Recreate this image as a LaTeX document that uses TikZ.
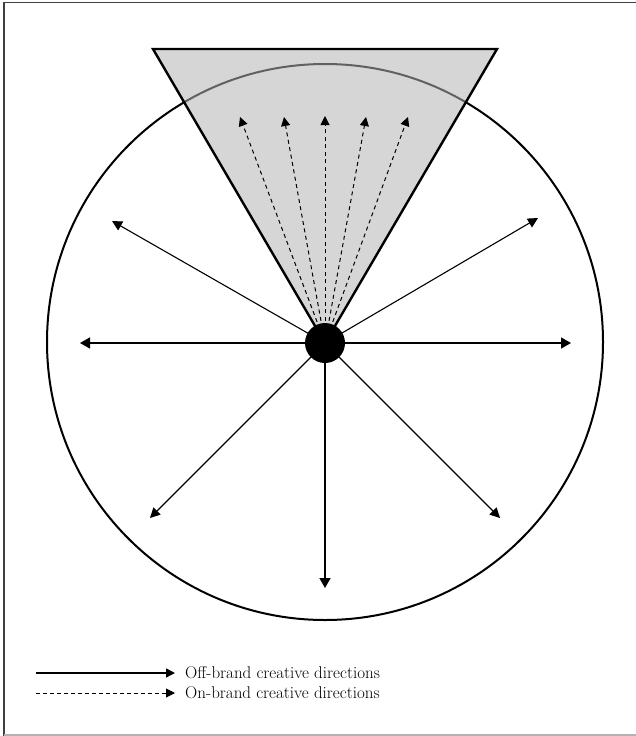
\documentclass[tikz,border=0pt]{standalone}
\usetikzlibrary{arrows.meta}
\tikzset{
  offarrow/.style={line width=1.1pt,-{Triangle[length=10pt,width=10pt]}},
  offarrowthick/.style={line width=1.6pt,-{Triangle[length=10pt,width=11pt]}},
  onarrow/.style={line width=1pt,dash pattern=on 4pt off 3.5pt,-{Triangle[length=9pt,width=9pt]}},
  legendtext/.style={anchor=west,inner sep=0pt,font=\fontsize{17}{19}\selectfont},
}
\begin{document}
\begin{tikzpicture}[x=1pt,y=-1pt]
\useasboundingbox (0,0) rectangle (636,736);
% frame
\draw[line width=1.5pt,color=black!75] (4,736) -- (4,2.5) -- (636,2.5);
\draw[line width=1.2pt,color=black!30] (4,735) -- (636,735);
% circle
\draw[line width=2pt] (325,342) circle (278);
% cone
\coordinate (tl) at (153,49);
\coordinate (tr) at (497,49);
\coordinate (c) at (325,343);
\fill[black!16] (tl) -- (tr) -- (c) -- cycle;
\begin{scope}
\clip (tl) -- (tr) -- (c) -- cycle;
\draw[line width=2pt,color=black!62] (325,342) circle (278);
\end{scope}
\draw[line width=2.4pt,line join=miter] (tl) -- (tr) -- (c) -- cycle;
% tips
\coordinate (d1) at (240,117);
\coordinate (d2) at (284,117);
\coordinate (d3) at (325,116);
\coordinate (d4) at (366,117);
\coordinate (d5) at (408,117);
\coordinate (w) at (80,343);
\coordinate (e) at (571,343);
\coordinate (nw) at (112,221);
\coordinate (ne) at (538,218);
\coordinate (sw) at (150,518);
\coordinate (se) at (500,518);
\coordinate (s) at (325,588);
\foreach \t in {d1,d2,d3,d4,d5} \draw[onarrow] (c) -- (\t);
\foreach \t in {nw,ne,sw,se} \draw[offarrow] (c) -- (\t);
\foreach \t in {w,e,s} \draw[offarrowthick] (c) -- (\t);
\node[circle,fill=black,minimum size=40pt,inner sep=0pt] (dot) at (c) {};
% legend
\coordinate (l1a) at (36,673);
\coordinate (l1b) at (175,673);
\coordinate (l2a) at (36,693);
\coordinate (l2b) at (175,693);
\draw[line width=1.5pt,-{Triangle[length=9pt,width=9pt]}] (l1a) -- (l1b);
\draw[line width=1pt,dash pattern=on 4pt off 3pt,-{Triangle[length=9pt,width=9pt]}] (l2a) -- (l2b);
\node[legendtext] (t1) at (185,673) {Off-brand creative directions};
\node[legendtext] (t2) at (185,693) {On-brand creative directions};
\end{tikzpicture}
\end{document}
